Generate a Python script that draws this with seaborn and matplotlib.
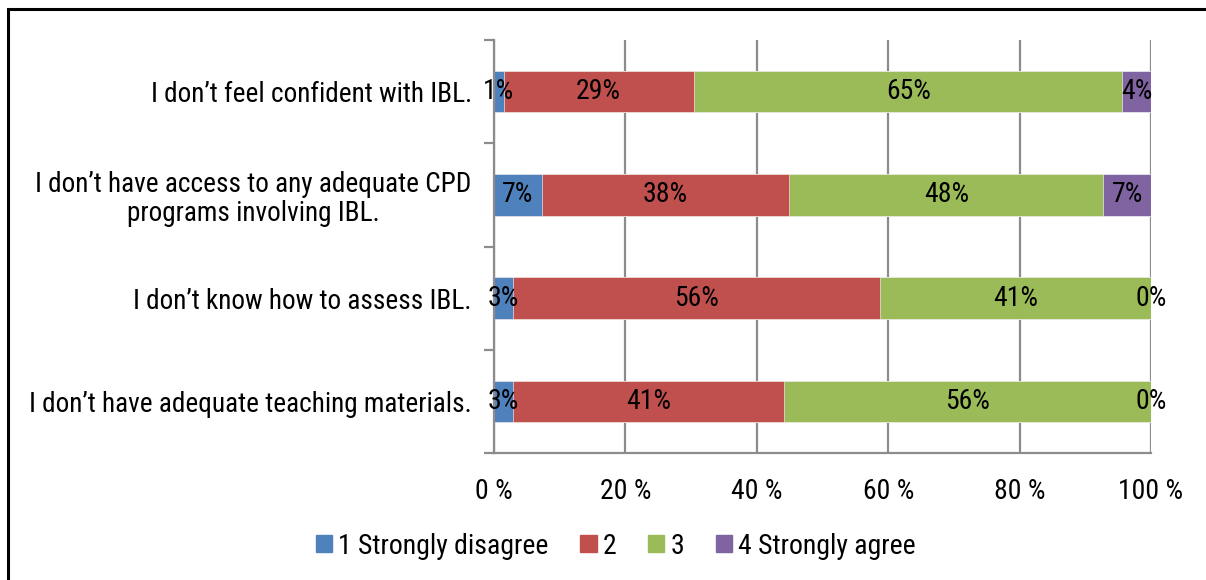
import numpy as np
import pandas as pd
import matplotlib
matplotlib.use("Agg")
import matplotlib.pyplot as plt
from matplotlib.patches import Rectangle
from matplotlib.ticker import FixedLocator
import seaborn as sns

# ---------------- data ----------------
categories = [
    "I don\u2019t feel confident with IBL.",
    "I don\u2019t have access to any adequate CPD\nprograms involving IBL.",
    "I don\u2019t know how to assess IBL.",
    "I don\u2019t have adequate teaching materials.",
]
series_names = ["1 Strongly disagree", "2", "3", "4 Strongly agree"]
strongly_disagree = [1.45, 7.25, 2.94, 2.94]
rating_2 = [28.99, 37.68, 55.88, 41.18]
rating_3 = [65.22, 47.83, 41.18, 55.88]
strongly_agree = [4.35, 7.25, 0.00, 0.00]
x_ticks = [0, 20, 40, 60, 80, 100]
x_tick_labels = ["0 %", "20 %", "40 %", "60 %", "80 %", "100 %"]
colors = ["#4F81BD", "#C0504D", "#9BBB59", "#8064A2"]

# ---------------- fonts ----------------
sns.set_theme(style="white")
plt.rcParams["font.family"] = ["Roboto Condensed", "DejaVu Sans"]
FS = 20
FS_CAT = 19.6

vals = np.array([strongly_disagree, rating_2, rating_3, strongly_agree])
vals = vals / vals.sum(axis=0) * 100
cums = np.cumsum(vals, axis=0)

fig = plt.figure(figsize=(12.06, 5.80), dpi=100)
ax = fig.add_axes([494 / 1206, 1 - 453 / 580, (1151 - 494) / 1206, (453 - 40) / 580])
ax.set_axisbelow(True)

for i in range(len(series_names) - 1, -1, -1):
    df = pd.DataFrame({"cat": categories, "cum": cums[i]})
    sns.barplot(data=df, x="cum", y="cat", order=categories, orient="h",
                color=colors[i], width=0.4, saturation=1, ax=ax,
                edgecolor="white", linewidth=0.4, label=series_names[i])

# value labels
for i in range(len(series_names)):
    for j in range(len(categories)):
        start = cums[i - 1][j] if i > 0 else 0
        center = start + vals[i][j] / 2
        ax.text(center, j, f"{int(round(vals[i][j]))}%", ha="center", va="center",
                fontsize=FS, color="black")

ax.set_xlim(0, 100)
ax.set_ylim(3.5, -0.5)
ax.set_xlabel("")
ax.set_ylabel("")
ax.set_xticks(x_ticks)
ax.set_xticklabels(x_tick_labels, fontsize=FS)
ax.xaxis.grid(True, color="#8C8C8C", linewidth=1.6)
ax.yaxis.grid(False)

for s in ["top", "right"]:
    ax.spines[s].set_visible(False)
for s in ["left", "bottom"]:
    ax.spines[s].set_visible(True)
    ax.spines[s].set_color("#8C8C8C")
    ax.spines[s].set_linewidth(1.6)

ax.tick_params(axis="x", which="major", direction="out", length=7, width=1.6,
               color="#8C8C8C", pad=11, labelcolor="black")
ax.yaxis.set_minor_locator(FixedLocator([-0.5, 0.5, 1.5, 2.5, 3.5]))
ax.tick_params(axis="y", which="minor", direction="out", length=7, width=1.6,
               color="#8C8C8C", left=True)
ax.tick_params(axis="y", which="major", length=0, pad=16, labelsize=FS_CAT,
               labelcolor="black")
for lbl in ax.get_yticklabels():
    lbl.set_multialignment("center")
    lbl.set_linespacing(1.1)

if ax.get_legend() is not None:
    ax.get_legend().remove()

handles = [Rectangle((0, 0), 1, 1, color=c) for c in colors]
fig.legend(handles, series_names, loc="center", ncol=4,
           bbox_to_anchor=(616 / 1206, 1 - 546 / 580), frameon=False,
           fontsize=FS, handlelength=0.58, handleheight=0.58,
           handletextpad=0.22, columnspacing=1.15, borderaxespad=0,
           labelcolor="black")

# outer frame (left and top visible)
fig.add_artist(Rectangle((7.5 / 1206, -0.1), 1.2, 1.1 - 8.5 / 580,
                         transform=fig.transFigure, fill=False,
                         edgecolor="black", linewidth=2.2, clip_on=False))

fig.savefig("out.png", dpi=100)
